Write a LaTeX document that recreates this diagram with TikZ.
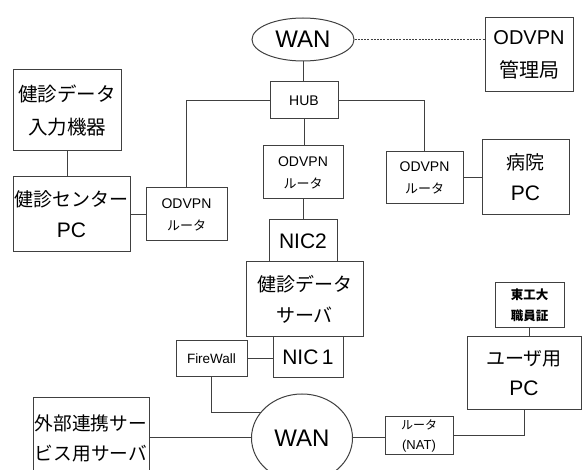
\documentclass[tikz,border=0pt]{standalone}
\usepackage{fontspec}
\setmainfont{Liberation Sans}
\newfontfamily\jp{Noto Sans CJK JP}
\usetikzlibrary{shapes.geometric}
\begin{document}
\begin{tikzpicture}[x=1pt,y=-1pt,
  ln/.style={line width=1pt, draw=black!75},
  box/.style={draw=black!75, line width=1pt, rectangle, inner sep=0pt, align=center},
  wanshape/.style={draw=black!75, line width=1pt, ellipse, inner sep=0pt, font=\fontsize{24}{24}\selectfont},
  big/.style={font=\fontsize{19}{31}\selectfont},
  rtr/.style={font=\fontsize{14}{22}\selectfont},
  tiny/.style={font=\fontsize{13}{20}\selectfont},
]
\useasboundingbox (0,0) rectangle (582,470);
\clip (0,0) rectangle (582,470);

% top part
\node[wanshape, minimum width=102pt, minimum height=43pt] (wan1) at (303,39.5) {WAN};
\node[box, big, minimum width=88pt, minimum height=74pt, font=\fontsize{20}{33}\selectfont] (mgr) at (529,55) {ODVPN\\{\jp 管理局}};
\node[box, minimum width=68pt, minimum height=37pt, font=\fontsize{14}{14}\selectfont] (hub) at (304,100.5) {HUB};

\node[box, big, minimum width=108pt, minimum height=81pt, font=\fontsize{19.5}{33}\selectfont] (input) at (67,110.5) {{\jp 健診データ}\\{\jp 入力機器}};
\node[box, big, minimum width=117pt, minimum height=75pt] (cpc) at (71.5,214.5) {{\jp 健診センター}\\{\fontsize{21}{31}\selectfont PC}};
\node[box, rtr, minimum width=81pt, minimum height=53pt] (rl) at (186.5,214.5) {ODVPN\\{\jp\fontsize{13}{22}\selectfont ルータ}};
\node[box, rtr, minimum width=80pt, minimum height=53pt] (rm) at (303,172.5) {ODVPN\\{\jp\fontsize{13}{22}\selectfont ルータ}};
\node[box, rtr, minimum width=77pt, minimum height=52pt] (rr) at (424.5,178) {ODVPN\\{\jp\fontsize{13}{22}\selectfont ルータ}};
\node[box, big, minimum width=87pt, minimum height=75pt] (hosp) at (525.5,177.5) {{\jp 病院}\\{\fontsize{21}{31}\selectfont PC}};

% server stack
\node[box, minimum width=68pt, minimum height=42pt, font=\fontsize{21}{21}\selectfont] (nic2) at (303,241) {NIC2};
\node[box, big, minimum width=117pt, minimum height=75pt] (srv) at (304.5,299.5) {{\jp 健診データ}\\{\jp サーバ}};
\node[box, minimum width=70pt, minimum height=41pt, font=\fontsize{21}{21}\selectfont] (nic1) at (308,357.5) {NIC\,1};
\node[box, minimum width=71pt, minimum height=36pt, font=\fontsize{13.5}{13.5}\selectfont] (fw) at (211.5,358.5) {FireWall};

% user side
\node[box, minimum width=69pt, minimum height=45pt, font=\fontsize{12.5}{21}\selectfont\bfseries] (card) at (529.5,305.5) {{\jp 東工大}\\{\jp 職員証}};
\node[box, big, minimum width=114pt, minimum height=73pt, font=\fontsize{19}{30}\selectfont] (upc) at (524,373.5) {{\jp ユーザ用}\\{\fontsize{21}{30}\selectfont PC}};

% bottom part
\node[wanshape, minimum width=101pt, minimum height=88pt] (wan2) at (302,438) {WAN};
\node[box, big, minimum width=116pt, minimum height=80pt, font=\fontsize{18.7}{30}\selectfont] (ext) at (91,438) {{\jp 外部連携サー}\\{\jp ビス用サーバ}};
\node[box, tiny, minimum width=68pt, minimum height=38pt] (nat) at (419,436) {{\jp\fontsize{12}{19}\selectfont ルータ}\\(NAT)};

% connectors
\draw[ln] (wan1.south) -- (wan1.south |- hub.north);
\draw[ln, dash pattern=on 2pt off 1.2pt] (wan1.east) -- (wan1.east -| mgr.west);
\draw[ln] (hub.west) -| (rl.north);
\draw[ln] (hub.south) -- (hub.south |- rm.north);
\draw[ln] (hub.east) -| (rr.north);
\draw[ln] (rr.east) -- (rr.east -| hosp.west);
\draw[ln] (input.south) -- (input.south |- cpc.north);
\draw[ln] (cpc.east) -- (cpc.east -| rl.west);
\draw[ln] (rm.south) -- (rm.south |- nic2.north);
\draw[ln] (fw.east) -- (fw.east -| nic1.west);
\draw[ln] (fw.south) |- (wan2.148);
\draw[ln] (ext.east) -- (ext.east -| wan2.west);
\draw[ln] (wan2.east) -- (wan2.east -| nat.west);
\draw[ln] (nat.east) -| (upc.south);
\draw[ln] (card.south) -- (card.south |- upc.north);
\end{tikzpicture}
\end{document}
